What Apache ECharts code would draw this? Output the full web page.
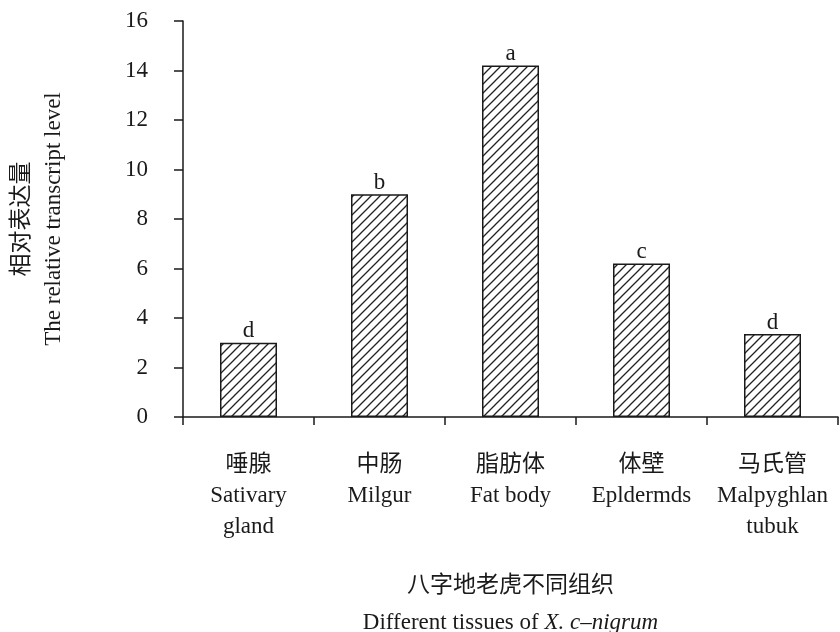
<!DOCTYPE html>
<html>
<head>
<meta charset="utf-8">
<script src="https://cdn.jsdelivr.net/npm/echarts@6/dist/echarts.min.js"></script>
<style>
  html, body { margin: 0; padding: 0; background: #fff; overflow: hidden; }
  #chart { width: 840px; height: 632px; }
</style>
</head>
<body>
<div id="chart"></div>
<script>
// Tissue names (Chinese / English) and relative transcript levels
const tissuesZh = ['唾腺', '中肠', '脂肪体', '体壁', '马氏管'];
const tissuesEn = ['Sativary\ngland', 'Milgur', 'Fat body', 'Epldermds', 'Malpyghlan\ntubuk'];
const expression = [3.0, 9.0, 14.2, 6.2, 3.35];
const significance = ['d', 'b', 'a', 'c', 'd'];
const yTicks = [0, 2, 4, 6, 8, 10, 12, 14, 16];

const categories = tissuesZh.map((zh, i) => zh + '\n' + tissuesEn[i]);

// Diagonal hatch fill for the bars
function hatchPattern() {
  const s = 9;
  const c = document.createElement('canvas');
  c.width = s; c.height = s;
  const g = c.getContext('2d');
  g.fillStyle = '#fff';
  g.fillRect(0, 0, s, s);
  g.strokeStyle = '#222';
  g.lineWidth = 1.3;
  g.beginPath();
  g.moveTo(0, s); g.lineTo(s, 0);
  g.moveTo(-2, 2); g.lineTo(2, -2);
  g.moveTo(s - 2, s + 2); g.lineTo(s + 2, s - 2);
  g.stroke();
  return c;
}

const serif = '"Liberation Serif", "Times New Roman", "Noto Sans CJK SC", serif';
const ink = '#1a1a1a';
const fs = 23;

const chart = echarts.init(document.getElementById('chart'), null, { renderer: 'canvas' });
chart.setOption({
  animation: false,
  backgroundColor: '#fff',
  grid: {
    left: 183, right: 2, top: 21, bottom: 215,
    containLabel: false, outerBoundsMode: 'none'
  },
  xAxis: {
    type: 'category',
    data: categories,
    boundaryGap: true,
    axisLine: { lineStyle: { color: ink, width: 1.5 } },
    axisTick: { show: true, length: 8, inside: false, lineStyle: { color: ink, width: 1.5 } },
    axisLabel: {
      color: ink, fontFamily: serif, fontSize: fs, lineHeight: 31,
      margin: 32, interval: 0
    },
    name: '八字地老虎不同组织\n{n|Different tissues of }{i|X. c–nigrum}',
    nameLocation: 'middle',
    nameGap: 150,
    nameTextStyle: {
      color: ink, fontFamily: serif, fontSize: fs, lineHeight: 37,
      rich: {
        n: { fontFamily: serif, fontSize: fs, color: ink, lineHeight: 37 },
        i: { fontFamily: serif, fontSize: fs, color: ink, fontStyle: 'italic', lineHeight: 37 }
      }
    }
  },
  yAxis: {
    type: 'value',
    min: yTicks[0],
    max: yTicks[yTicks.length - 1],
    interval: yTicks[1] - yTicks[0],
    splitLine: { show: false },
    axisLine: { show: true, lineStyle: { color: ink, width: 1.5 } },
    axisTick: { show: true, length: 9, inside: false, lineStyle: { color: ink, width: 1.5 } },
    axisLabel: { color: ink, fontFamily: serif, fontSize: fs, margin: 35 },
    name: '相对表达量\nThe relative transcript level',
    nameLocation: 'middle',
    nameRotate: 90,
    nameGap: 113,
    nameTextStyle: { color: ink, fontFamily: serif, fontSize: fs, lineHeight: 32 }
  },
  series: [{
    type: 'bar',
    data: expression,
    barWidth: 57,
    itemStyle: {
      color: { image: hatchPattern(), repeat: 'repeat' },
      borderColor: ink,
      borderWidth: 1.5
    },
    label: {
      show: true,
      position: 'top',
      distance: 0,
      color: ink,
      fontFamily: serif,
      fontSize: fs,
      formatter: p => significance[p.dataIndex]
    }
  }]
});
</script>
</body>
</html>
